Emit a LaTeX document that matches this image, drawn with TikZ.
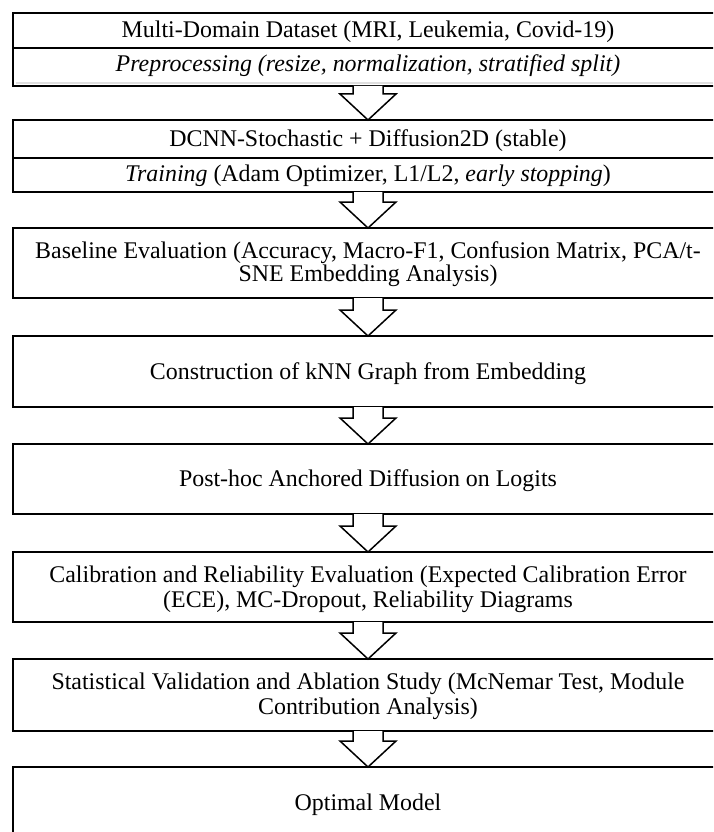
\documentclass[tikz,border=0pt]{standalone}
\usepackage{fontspec}
\setmainfont{Liberation Serif}
\begin{document}
\begin{tikzpicture}[x=1pt,y=-1pt,
  boxline/.style={draw=black,line width=1.7pt},
  flowarrow/.style={draw=black,line width=1.5pt,fill=white,line join=miter},
  txt/.style={anchor=base,inner sep=0pt,font=\fontsize{23.9}{27}\selectfont}]
\useasboundingbox (0,0) rectangle (713,832);
\clip (0,0) rectangle (713,832);
% boxes
\draw[boxline] (13,13) rectangle (723,86);
\draw[boxline] (13,48) -- (723,48);
\draw[gray!25,line width=1.5pt] (16,83.2) -- (713,83.2);
\draw[boxline] (13,120) rectangle (723,192);
\draw[boxline] (13,158) -- (723,158);
\draw[boxline] (13,228) rectangle (723,298);
\draw[boxline] (13,336) rectangle (723,407);
\draw[boxline] (13,444) rectangle (723,514);
\draw[boxline] (13,552) rectangle (723,622);
\draw[boxline] (13,659) rectangle (723,731);
\draw[boxline] (13,767) rectangle (723,900);
% arrows
\foreach \yb/\yt in {86/120,192/228,298/336,407/444,514/552,622/659,731/767}{
  \draw[flowarrow] (353,\yb) -- (353,\yt-26) -- (340,\yt-26) -- (368,\yt) -- (396,\yt-26) -- (383,\yt-26) -- (383,\yb);
}
% texts
\node[txt] (t1a) at (368,37.3) {Multi-Domain Dataset (MRI, Leukemia, Covid-19)};
\node[txt] (t1b) at (368,72) {\itshape Preprocessing (resize, normalization, stratified split)};
\node[txt] (t2a) at (368,146.7) {DCNN-Stochastic + Diffusion2D (stable)};
\node[txt] (t2b) at (368,181.7) {\textit{Training} (Adam Optimizer, L1/L2, \textit{early stopping})};
\node[txt] (t3a) at (368,258.3) {Baseline Evaluation (Accuracy, Macro-F1, Confusion Matrix, PCA/t-};
\node[txt] (t3b) at (368,281.7) {SNE Embedding Analysis)};
\node[txt] (t4) at (368,379.3) {Construction of kNN Graph from Embedding};
\node[txt] (t5) at (368,486.7) {Post-hoc Anchored Diffusion on Logits};
\node[txt] (t6a) at (368,582.7) {Calibration and Reliability Evaluation (Expected Calibration Error};
\node[txt] (t6b) at (368,607) {(ECE), MC-Dropout, Reliability Diagrams};
\node[txt] (t7a) at (368,689.3) {Statistical Validation and Ablation Study (McNemar Test, Module};
\node[txt] (t7b) at (368,714) {Contribution Analysis)};
\node[txt] (t8) at (368,810) {Optimal Model};
\end{tikzpicture}
\end{document}
